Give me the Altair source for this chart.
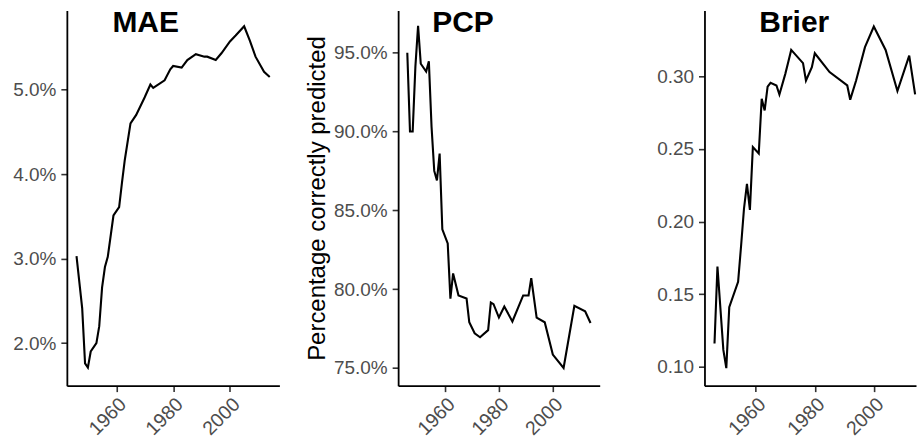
import altair as alt
import pandas as pd

FONT = "Liberation Sans"

# ---------------- data ----------------
mae_years = [1946, 1948, 1949, 1950, 1951, 1953, 1954, 1955, 1956, 1957, 1959, 1961,
             1962, 1963, 1965, 1967, 1970, 1972, 1973, 1977, 1979, 1980, 1983, 1985,
             1988, 1991, 1992, 1995, 1997, 2000, 2002, 2005, 2007, 2009, 2012, 2014]
mae_values = [0.0303, 0.0241, 0.0176, 0.0171, 0.0190, 0.0200, 0.0220, 0.0266, 0.0290,
              0.0302, 0.0351, 0.0361, 0.0390, 0.0417, 0.0460, 0.0470, 0.0491, 0.0506,
              0.0502, 0.0511, 0.0524, 0.0528, 0.0526, 0.0535, 0.0542, 0.0539, 0.0539,
              0.0535, 0.0543, 0.0557, 0.0564, 0.0575, 0.0558, 0.0539, 0.0521, 0.0515]

pcp_years = [1946, 1947, 1948, 1949, 1950, 1951, 1953, 1954, 1955, 1956, 1957, 1958,
             1959, 1961, 1962, 1963, 1965, 1968, 1969, 1971, 1973, 1976, 1977, 1978,
             1980, 1982, 1985, 1989, 1991, 1992, 1994, 1997, 2000, 2004, 2008, 2012, 2014]
pcp_values = [0.950, 0.900, 0.900, 0.941, 0.967, 0.943, 0.938, 0.9445, 0.903, 0.875,
              0.869, 0.886, 0.838, 0.829, 0.794, 0.810, 0.796, 0.794, 0.779, 0.772,
              0.7695, 0.774, 0.7915, 0.7905, 0.782, 0.789, 0.7795, 0.796, 0.796, 0.807,
              0.782, 0.779, 0.7585, 0.750, 0.7895, 0.786, 0.7785]

brier_years = [1946, 1947, 1949, 1950, 1951, 1954, 1955, 1956, 1957, 1958, 1959, 1961,
               1962, 1963, 1964, 1965, 1967, 1968, 1970, 1971, 1972, 1976, 1977, 1979,
               1980, 1985, 1991, 1992, 1994, 1997, 2000, 2004, 2008, 2012, 2014]
brier_values = [0.116, 0.169, 0.1115, 0.099, 0.141, 0.1585, 0.183, 0.209, 0.226, 0.208,
                0.2514, 0.247, 0.2846, 0.2766, 0.293, 0.2956, 0.2938, 0.2876, 0.3018,
                0.3099, 0.3183, 0.3092, 0.2972, 0.3064, 0.316, 0.303, 0.2938, 0.284,
                0.2972, 0.3202, 0.3344, 0.3183, 0.290, 0.3144, 0.2876]

x_ticks = [1960, 1980, 2000]
mae_ticks = [0.02, 0.03, 0.04, 0.05]
pcp_ticks = [0.75, 0.80, 0.85, 0.90, 0.95]
brier_ticks = [0.10, 0.15, 0.20, 0.25, 0.30]


def panel(years, values, title, title_x, xdomain, ydomain, yticks, yfmt, width,
          extent, ytitle="", title_pad=4):
    df = pd.DataFrame({"year": years, "value": values})
    line = alt.Chart(df).mark_line(color="black", strokeWidth=2.1).encode(
        x=alt.X("year:Q",
                scale=alt.Scale(domain=xdomain, nice=False, zero=False),
                axis=alt.Axis(values=x_ticks, format="d", title="",
                              labelAngle=315, labelAlign="right",
                              labelBaseline="top", labelPadding=3,
                              labelFontSize=19.5)),
        y=alt.Y("value:Q",
                scale=alt.Scale(domain=ydomain, nice=False, zero=False),
                axis=alt.Axis(values=yticks, format=yfmt, title=ytitle,
                              minExtent=extent, maxExtent=extent,
                              labelPadding=5, titlePadding=title_pad,
                              titleFontSize=24, titleFontWeight="normal",
                              titleColor="black", titleFont=FONT)),
    )
    label = alt.Chart(alt.Data(values=[{"t": title}])).mark_text(
        font=FONT, fontSize=30, fontWeight="bold", color="black",
        align="center", baseline="alphabetic"
    ).encode(text="t:N", x=alt.value(title_x), y=alt.value(22))
    return alt.layer(line, label).properties(width=width, height=376)


p1 = panel(mae_years, mae_values, "MAE", 79, [1942.6, 2017.4],
           [0.01496, 0.05937], mae_ticks, ".1%", 213, 67)
p2 = panel(pcp_years, pcp_values, "PCP", 65, [1942.6, 2017.4],
           [0.7388, 0.9768], pcp_ticks, ".1%", 202, 66,
           ytitle="Percentage correctly predicted", title_pad=3)
p3 = panel(brier_years, brier_values, "Brier", 90, [1942.6, 2014.3],
           [0.0869, 0.3455], brier_ticks, ".2f", 212, 79)

chart = alt.hconcat(p1, p2, p3, spacing=26).properties(
    padding={"left": 0, "top": 8, "right": 0, "bottom": 0},
    background="white",
).configure_view(strokeWidth=0).configure_axis(
    grid=False,
    domainColor="black",
    domainWidth=1.8,
    tickColor="#333333",
    tickWidth=1.6,
    tickSize=6,
    labelFont=FONT,
    labelFontSize=19,
    labelColor="#4d4d4d",
    labelFlush=False,
    labelOverlap=False,
)

chart.save("out.html", embed_options={"renderer": "svg", "actions": False})
